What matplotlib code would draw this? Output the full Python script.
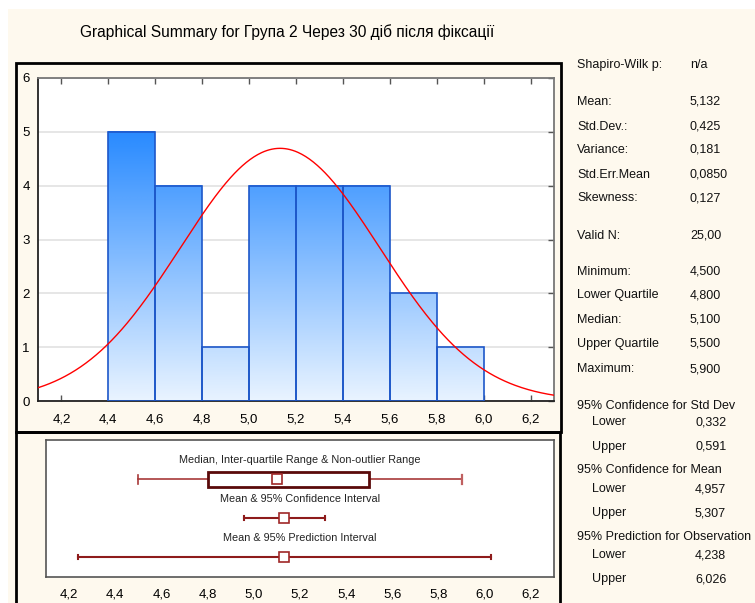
import numpy as np
import matplotlib
matplotlib.use("Agg")
import matplotlib.pyplot as plt
from matplotlib.patches import Rectangle
from matplotlib.colors import LinearSegmentedColormap

plt.rcParams['font.family'] = ['Liberation Sans', 'DejaVu Sans']

# ---- data ----
title = "Graphical Summary for Група 2 Через 30 діб після фіксації"
bin_edges = [4.4, 4.6, 4.8, 5.0, 5.2, 5.4, 5.6, 5.8, 6.0]
counts = [5, 4, 1, 4, 4, 4, 2, 1]
n_valid = 25
mean = 5.132
std_dev = 0.425
minimum, q1, median, q3, maximum = 4.5, 4.8, 5.1, 5.5, 5.9
ci_mean = (4.957, 5.307)
pred_int = (4.238, 6.026)
ci_sd = (0.332, 0.591)
x_ticks = [4.2, 4.4, 4.6, 4.8, 5.0, 5.2, 5.4, 5.6, 5.8, 6.0, 6.2]
y_ticks = [0, 1, 2, 3, 4, 5, 6]

stat_labels = ["Shapiro-Wilk p:", "Mean:", "Std.Dev.:", "Variance:", "Std.Err.Mean",
               "Skewness:", "Valid N:", "Minimum:", "Lower Quartile", "Median:",
               "Upper Quartile", "Maximum:"]
stat_values = ["n/a", "5,132", "0,425", "0,181", "0,0850", "0,127", "25,00",
               "4,500", "4,800", "5,100", "5,500", "5,900"]
interval_titles = ["95% Confidence for Std Dev", "95% Confidence for Mean",
                   "95% Prediction for Observation"]
interval_values = [("0,332", "0,591"), ("4,957", "5,307"), ("4,238", "6,026")]

box_titles = ["Median, Inter-quartile Range & Non-outlier Range",
              "Mean & 95% Confidence Interval",
              "Mean & 95% Prediction Interval"]

# ---- figure ----
W, H = 755, 603
fig = plt.figure(figsize=(W / 100, H / 100), dpi=100)
fig.patch.set_facecolor('white')
cream = '#FEF9EE'


def fx(px):
    return px / W


def fy(py):
    return 1 - py / H


# cream backdrop and panel frames
fig.patches.append(Rectangle((fx(8), 0), 1 - fx(8), fy(9), transform=fig.transFigure,
                             facecolor=cream, edgecolor='none', zorder=-10))
fig.patches.append(Rectangle((fx(16), fy(432)), fx(561) - fx(16), fy(63) - fy(432),
                             transform=fig.transFigure, facecolor='none',
                             edgecolor='black', lw=2, zorder=5))
fig.patches.append(Rectangle((fx(16), fy(640)), fx(560) - fx(16), fy(432) - fy(640),
                             transform=fig.transFigure, facecolor='none',
                             edgecolor='black', lw=2, zorder=5, clip_on=False))

fig.text(fx(287), fy(32), title, ha='center', va='center', fontsize=11.2)

# ---- histogram ----
ax = fig.add_axes([fx(38), fy(401), fx(554) - fx(38), fy(78) - fy(401)])
ax.set_facecolor('white')

cmap = LinearSegmentedColormap.from_list('barfill', ['#E8F3FF', '#2A8BFF'])
top = max(counts)
for i, c in enumerate(counts):
    x0, x1 = bin_edges[i], bin_edges[i + 1]
    grad = np.linspace(0, c, 64).reshape(-1, 1)
    ax.imshow(grad, extent=[x0, x1, 0, c], origin='lower', aspect='auto',
              cmap=cmap, vmin=0, vmax=top, zorder=2, interpolation='bilinear')
    ax.add_patch(Rectangle((x0, 0), x1 - x0, c, facecolor='none',
                           edgecolor='#1D57C9', lw=1.2, zorder=3))

xs = np.linspace(4.1, 6.3, 400)
bw = bin_edges[1] - bin_edges[0]
pdf = n_valid * bw * np.exp(-0.5 * ((xs - mean) / std_dev) ** 2) / (std_dev * np.sqrt(2 * np.pi))
ax.plot(xs, pdf, color='#FF0000', lw=1.0, zorder=4)

ax.set_xlim(4.1, 6.3)
ax.set_ylim(0, 6)
ax.set_yticks(y_ticks)
ax.set_xticks(x_ticks)
ax.set_xticklabels([f"{t:.1f}".replace('.', ',') for t in x_ticks])
ax.grid(axis='y', color='#E2E2E2', lw=1.2, zorder=1)
ax.set_axisbelow(True)
ax.tick_params(direction='in', length=4, width=1, color='#555555',
               top=True, right=True, labelsize=9.5, pad=9)
ax.tick_params(axis='y', left=False, pad=6)
for side in ['left', 'bottom']:
    ax.spines[side].set_color('#222222')
    ax.spines[side].set_linewidth(1.3)
for side in ['top', 'right']:
    ax.spines[side].set_color('#777777')
    ax.spines[side].set_linewidth(1.3)

# ---- box / interval panel ----
bx = fig.add_axes([fx(46), fy(577), fx(554) - fx(46), fy(440) - fy(577)])
bx.set_facecolor('white')
bx.set_xlim(4.1, 6.3)
bx.set_ylim(1, 0)
bx.set_yticks([])
bx.set_xticks(x_ticks)
bx.set_xticklabels([f"{t:.1f}".replace('.', ',') for t in x_ticks])
bx.tick_params(axis='x', length=0, labelsize=9.5, pad=8)
for s in bx.spines.values():
    s.set_color('#555555')
    s.set_linewidth(1.2)

row_text = [0.146, 0.433, 0.713]
row_mark = [0.287, 0.571, 0.854]
xc = sum(bx.get_xlim()) / 2
for t, yv in zip(box_titles, row_text):
    bx.text(xc, yv, t, ha='center', va='center', fontsize=7.8, color='#222222')

marker_kw = dict(marker='s', markersize=6.5, markerfacecolor='white',
                 markeredgecolor='#A02828', markeredgewidth=1.2, zorder=5)
cap = 0.035

# non-outlier range whiskers and IQR box
y = row_mark[0]
bx.plot([minimum, q1], [y, y], color='#A83A3A', lw=1.2)
bx.plot([q3, maximum], [y, y], color='#A83A3A', lw=1.2)
bx.plot([minimum, minimum], [y - cap, y + cap], color='#A83A3A', lw=1.2)
bx.plot([maximum, maximum], [y - cap, y + cap], color='#C06060', lw=1.6)
bx.add_patch(Rectangle((q1, y - 0.055), q3 - q1, 0.11, facecolor='white',
                       edgecolor='#5A0A0A', lw=2, zorder=4))
bx.plot([median], [y], **marker_kw)

# confidence interval for the mean
y = row_mark[1]
bx.plot(list(ci_mean), [y, y], color='#8E1B1B', lw=1.5)
for v in ci_mean:
    bx.plot([v, v], [y - 0.015, y + 0.015], color='#8E1B1B', lw=1.5)
bx.plot([mean], [y], **marker_kw)

# prediction interval
y = row_mark[2]
bx.plot(list(pred_int), [y, y], color='#8E1B1B', lw=1.5)
for v in pred_int:
    bx.plot([v, v], [y - 0.015, y + 0.015], color='#8E1B1B', lw=1.5)
bx.plot([mean], [y], **marker_kw)

# ---- summary statistics ----
stat_rows_y = [65, 102, 126.7, 150, 174.7, 198, 235.7, 271.7, 295.3, 319.7, 344, 369]
for lab, val, yy in zip(stat_labels, stat_values, stat_rows_y):
    fig.text(fx(577), fy(yy), lab, ha='left', va='center', fontsize=9, color='#111111')
    fig.text(fx(690), fy(yy), val, ha='left', va='center', fontsize=9, color='#111111')

interval_rows_y = [(405.7, 422.3, 446.7), (470, 489.3, 513.3), (536.7, 555.3, 579.3)]
for head, (lo, hi), (yh, yl, yu) in zip(interval_titles, interval_values, interval_rows_y):
    fig.text(fx(577), fy(yh), head, ha='left', va='center', fontsize=9, color='#111111')
    fig.text(fx(592), fy(yl), "Lower", ha='left', va='center', fontsize=9, color='#111111')
    fig.text(fx(695), fy(yl), lo, ha='left', va='center', fontsize=9, color='#111111')
    fig.text(fx(592), fy(yu), "Upper", ha='left', va='center', fontsize=9, color='#111111')
    fig.text(fx(695), fy(yu), hi, ha='left', va='center', fontsize=9, color='#111111')

fig.savefig("out.png", dpi=100)
